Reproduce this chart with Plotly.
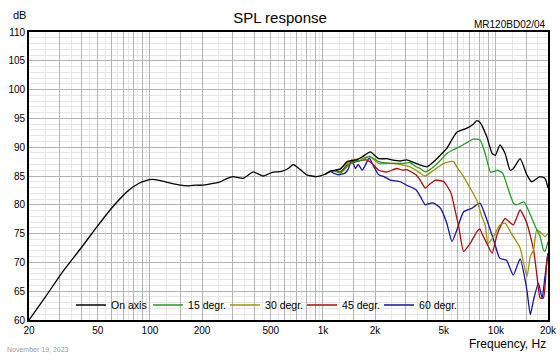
import plotly.graph_objects as go

# ---------------- data ----------------
freq_on = [20, 25, 31, 40, 48.6, 60, 70, 76, 86, 95, 103, 115, 130, 150, 168, 185, 200, 220,
           254, 280, 302, 346, 396, 452, 505, 578, 630, 674, 720, 806, 920, 1030, 1100, 1172,
           1260, 1380, 1560, 1700, 1880, 2000, 2100, 2340, 2500, 2800, 3050, 3450, 3650, 3990,
           4370, 4800, 5200, 5940, 6800, 7400, 7750, 8100, 8860, 9510, 9930, 10540, 11300,
           12080, 12620, 13800, 15100, 16100, 17960, 19200, 20000]
spl_on = [60.0, 64.1, 68.2, 72.5, 75.9, 79.4, 81.6, 82.6, 83.7, 84.2, 84.4, 84.2, 83.8, 83.4,
          83.3, 83.4, 83.4, 83.6, 84.0, 84.6, 84.9, 84.6, 85.7, 85.0, 85.6, 85.8, 86.3, 87.0,
          86.4, 85.2, 84.9, 85.3, 85.8, 86.0, 86.2, 87.5, 87.8, 88.4, 89.2, 88.5, 88.0, 88.0,
          87.8, 87.6, 87.8, 87.2, 86.9, 86.6, 87.5, 88.7, 89.8, 92.6, 93.3, 94.0, 94.6, 94.3,
          91.8, 88.9, 88.6, 90.4, 88.9, 86.0, 86.3, 88.0, 85.2, 84.0, 84.9, 84.6, 82.9]

freq_15 = [1030, 1100, 1172, 1260, 1380, 1500, 1700, 1860, 2100, 2450, 2900, 3200, 3450, 3650,
           3910, 4370, 4800, 5200, 5700, 6200, 6800, 7400, 8080, 8670, 9300, 9800, 10200, 10930,
           11680, 12620, 13200, 14500, 15800, 16900, 18000, 18800, 19200, 20000]
spl_15 = [85.3, 85.8, 85.9, 85.5, 86.6, 87.5, 87.8, 88.4, 87.5, 87.2, 87.2, 87.3, 86.6, 86.3,
          85.7, 86.6, 87.8, 88.9, 89.6, 90.1, 90.8, 91.4, 91.3, 88.9, 85.7, 85.8, 86.0, 85.5,
          83.1, 80.3, 80.0, 80.5, 78.3, 76.2, 74.5, 72.2, 71.9, 73.6]

freq_30 = [1030, 1100, 1172, 1260, 1380, 1500, 1700, 1860, 2100, 2600, 2900, 3200, 3450, 3650,
           3900, 4370, 5000, 5450, 5700, 5940, 6500, 7100, 7750, 8300, 8670, 9000, 9700, 10540,
           11300, 12300, 13800, 15100, 15800, 16500, 17200, 18000, 19200, 20000]
spl_30 = [85.3, 85.8, 85.9, 86.3, 87.2, 87.8, 88.1, 88.4, 87.2, 87.2, 86.9, 86.6, 86.0, 85.5,
          85.0, 86.0, 87.2, 87.5, 87.5, 86.6, 84.9, 82.9, 80.8, 77.9, 76.5, 73.3, 74.5, 76.5,
          76.8, 75.0, 72.5, 67.5, 71.0, 72.2, 75.6, 75.3, 74.5, 75.0]

freq_45 = [1030, 1100, 1172, 1260, 1380, 1560, 1780, 1920, 2100, 2340, 2670, 2900, 3050, 3450,
           3650, 3900, 4150, 4480, 5000, 5450, 5570, 5800, 6100, 6500, 7100, 7750, 8080, 8300,
           8860, 9500, 10200, 11300, 12600, 13800, 15100, 16500, 17300, 18000, 18800, 19700, 20000]
spl_45 = [85.3, 85.8, 85.9, 85.7, 86.9, 87.5, 87.8, 87.2, 86.0, 85.7, 86.3, 86.0, 86.1, 85.2,
          84.3, 82.9, 83.6, 84.3, 84.0, 82.3, 81.5, 79.1, 76.2, 71.9, 73.3, 75.3, 75.8, 75.0,
          73.3, 71.6, 75.0, 77.6, 76.5, 79.1, 76.8, 72.2, 67.5, 63.8, 63.8, 70.4, 71.6]

freq_60 = [1030, 1100, 1150, 1230, 1340, 1400, 1470, 1540, 1600, 1690, 1850, 1950, 2100, 2250,
           2450, 2800, 3050, 3450, 3650, 3900, 4200, 4370, 4780, 5200, 5570, 5940, 6500, 7260,
           8080, 8860, 9700, 10540, 11500, 12600, 13800, 15100, 15800, 16500, 17600, 18500,
           19200, 20000]
spl_60 = [85.3, 85.8, 85.5, 85.2, 85.5, 86.2, 87.8, 86.3, 87.0, 86.0, 88.1, 86.9, 85.2, 84.9,
          84.3, 84.0, 83.4, 82.6, 81.5, 80.0, 80.3, 80.3, 79.4, 76.8, 73.6, 75.6, 78.8, 79.4,
          80.3, 77.4, 73.9, 70.7, 70.4, 67.8, 70.6, 65.2, 60.9, 63.5, 66.4, 63.8, 67.5, 71.6]

series_names = ["On axis", "15 degr.", "30 degr.", "45 degr.", "60 degr."]
series_colors = ["#000000", "#1f9e1f", "#9c9400", "#a80c0c", "#1414a0"]

x_major = [20, 30, 40, 50, 60, 70, 80, 90, 100, 150, 200, 300, 400, 500, 600, 700, 800, 900,
           1000, 1500, 2000, 3000, 4000, 5000, 6000, 7000, 8000, 9000, 10000, 15000, 20000]
x_labelled = {20: "20", 50: "50", 100: "100", 200: "200", 500: "500", 1000: "1k",
              2000: "2k", 5000: "5k", 10000: "10k", 20000: "20k"}
x_minor = [25, 35, 45, 55, 65, 75, 85, 95, 125, 175, 250, 350, 450, 550, 650, 750, 850, 950,
           1250, 1750, 2500, 3500, 4500, 5500, 6500, 7500, 8500, 9500, 12500, 17500]
y_ticks = [60, 65, 70, 75, 80, 85, 90, 95, 100, 105, 110]

# ---------------- figure ----------------
FONT = "Liberation Sans, Arial, sans-serif"
fig = go.Figure()

data = [(freq_on, spl_on), (freq_15, spl_15), (freq_30, spl_30), (freq_45, spl_45),
        (freq_60, spl_60)]
for i in [4, 3, 2, 1, 0]:
    fx, fy = data[i]
    fig.add_trace(go.Scatter(
        x=fx, y=fy, mode="lines", name=series_names[i], legendrank=i + 1,
        line=dict(color=series_colors[i], width=1.3, shape="spline", smoothing=0.5),
        hoverinfo="skip"))

fig.update_layout(
    width=560, height=356,
    margin=dict(l=29, r=12, t=32, b=36, autoexpand=False),
    paper_bgcolor="white", plot_bgcolor="white",
    font=dict(family=FONT, size=10, color="#000"),
    title=dict(text="SPL response", x=0.5, xref="container", xanchor="center",
               y=1 - 18 / 356, yref="container", yanchor="middle",
               font=dict(family=FONT, size=15, color="#000")),
    showlegend=True,
    legend=dict(orientation="h", x=0.081, xanchor="left", y=0.052, yanchor="middle",
                bgcolor="rgba(0,0,0,0)", font=dict(family=FONT, size=10.5, color="#000"),
                entrywidth=32, entrywidthmode="pixels", itemwidth=30,
                traceorder="normal"),
)

fig.update_xaxes(
    type="log", range=[1.30103, 4.30103], automargin=False,
    tickmode="array", tickvals=x_major,
    ticktext=[x_labelled.get(v, "") for v in x_major],
    ticks="", showgrid=True, gridcolor="#b4b4b4", gridwidth=1,
    minor=dict(tickmode="array", tickvals=x_minor, showgrid=True, gridcolor="#e6e6e6",
               gridwidth=1, ticks=""),
    showline=True, linecolor="#000", linewidth=1.6, mirror=True,
    zeroline=False, tickfont=dict(family=FONT, size=10, color="#000"),
)
fig.update_yaxes(
    range=[60, 110], tickmode="array", tickvals=y_ticks, automargin=False,
    ticktext=[str(v) for v in y_ticks], ticks="",
    showgrid=True, gridcolor="#b4b4b4", gridwidth=1,
    minor=dict(dtick=1, showgrid=True, gridcolor="#e6e6e6", gridwidth=1, ticks=""),
    showline=True, linecolor="#000", linewidth=1.6, mirror=True,
    zeroline=False, tickfont=dict(family=FONT, size=10, color="#000"),
)

W, H = 519.0, 288.0
fig.add_annotation(text="dB", xref="paper", yref="paper", x=(19 - 29) / W,
                   y=(320 - 15) / H, xanchor="center", yanchor="middle", showarrow=False,
                   font=dict(family=FONT, size=11, color="#000"))
fig.add_annotation(text="MR120BD02/04", xref="paper", yref="paper", x=1.0,
                   y=(320 - 25) / H, xanchor="right", yanchor="middle", showarrow=False,
                   font=dict(family=FONT, size=10, color="#000"))
fig.add_annotation(text="Frequency, Hz", xref="paper", yref="paper", x=1.0,
                   y=(320 - 344) / H, xanchor="right", yanchor="middle", showarrow=False,
                   font=dict(family=FONT, size=12, color="#000"))
fig.add_annotation(text="November 19, 2023", xref="paper", yref="paper", x=(5 - 29) / W,
                   y=(320 - 349) / H, xanchor="left", yanchor="middle", showarrow=False,
                   font=dict(family=FONT, size=7, color="#9a9a9a"))

fig.write_html("out.html",
               config={"displayModeBar": False},
               post_script="document.body.style.margin='0';"
                           "document.body.style.overflow='hidden';")
